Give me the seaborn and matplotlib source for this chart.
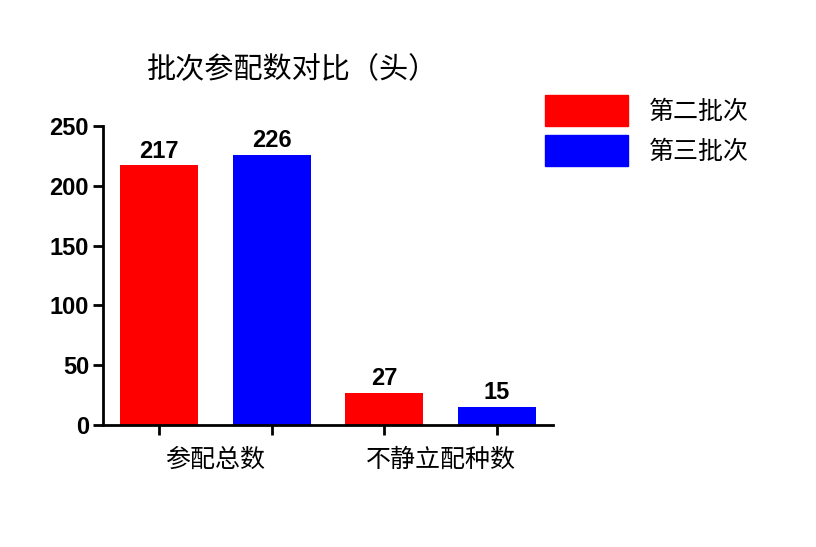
import pandas as pd
import seaborn as sns
import matplotlib.pyplot as plt
from matplotlib.ticker import FixedLocator

categories = ['参配总数', '不静立配种数']
batches = ['第二批次', '第三批次']
second_batch = [217, 27]
third_batch = [226, 15]
colors = ['#ff0000', '#0000ff']

df = pd.DataFrame({
    'cat': categories * 2,
    'batch': [batches[0]] * 2 + [batches[1]] * 2,
    'value': second_batch + third_batch,
})

sns.set_style('ticks')
plt.rcParams['font.family'] = ['Noto Sans CJK SC', 'DejaVu Sans']
plt.rcParams['text.color'] = 'black'
plt.rcParams['xtick.color'] = 'black'
plt.rcParams['ytick.color'] = 'black'
plt.rcParams['axes.edgecolor'] = 'black'

fig = plt.figure(figsize=(8.16, 5.47), dpi=100)
ax = fig.add_axes([103 / 816, 1 - 425 / 547, 450 / 816, 299 / 547])

sns.barplot(data=df, x='cat', y='value', hue='batch', order=categories,
            hue_order=batches, palette=colors, width=1.0, gap=0.31,
            saturation=1, linewidth=0, ax=ax)

for cont in ax.containers:
    ax.bar_label(cont, padding=2, fontsize=17, fontweight='bold',
                 fontfamily='Liberation Sans', color='black')

ax.set_xlim(-0.5, 1.5)
ax.set_ylim(0, 250)
ax.set_yticks([0, 50, 100, 150, 200, 250])
ax.set_xlabel('')
ax.set_ylabel('')

# ticks under each bar, labels at group centres
centers = [p.get_x() + p.get_width() / 2 for p in ax.patches if p.get_height() > 0]
ax.xaxis.set_minor_locator(FixedLocator(centers))
ax.tick_params(axis='x', which='major', length=0, pad=16, labelsize=18,
               labelcolor='black')
ax.tick_params(axis='x', which='minor', length=7, width=2, direction='out')
ax.tick_params(axis='y', length=7, width=2, direction='out', pad=3,
               labelcolor='black')
for lab in ax.get_yticklabels():
    lab.set_fontfamily('Liberation Sans')
    lab.set_fontweight('bold')
    lab.set_fontsize(17)

for s in ['top', 'right']:
    ax.spines[s].set_visible(False)
for s in ['left', 'bottom']:
    ax.spines[s].set_linewidth(2)

ax.legend_.remove()
handles = [plt.Rectangle((0, 0), 1, 1, color=c) for c in colors]
fig.legend(handles, batches, loc='upper left',
           bbox_to_anchor=(545 / 816, 1 - 95 / 547), frameon=False,
           fontsize=18, handlelength=3.3, handleheight=1.52,
           handletextpad=0.85, labelspacing=0.38, borderpad=0, borderaxespad=0)

fig.text(293 / 816, 1 - 70 / 547, '批次参配数对比（头）', ha='center', va='center',
         fontsize=21)

fig.savefig('out.png', dpi=100)
